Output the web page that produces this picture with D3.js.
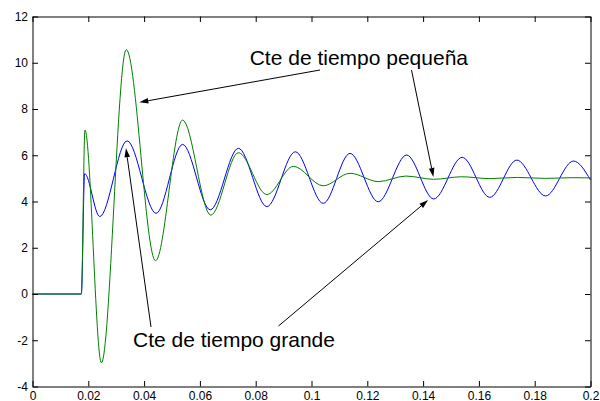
<!DOCTYPE html>
<html>
<head>
<meta charset="utf-8">
<script src="https://cdn.jsdelivr.net/npm/d3@7"></script>
<style>
  html, body { margin: 0; padding: 0; background: #fff; }
  svg { display: block; }
  text { font-family: "Liberation Sans", Arial, Helvetica, sans-serif; }
</style>
</head>
<body>
<svg id="chart" width="600" height="401"></svg>
<script>
// Response with the large time constant (blue): times (s) and values at turning points
const blueT = [0, 0.0175, 0.0187, 0.0241, 0.0339, 0.0443, 0.0538, 0.0637, 0.0738, 0.0840,
               0.0942, 0.1042, 0.1138, 0.1239, 0.1341, 0.1438, 0.1540, 0.1639, 0.1736,
               0.1839, 0.1939, 0.2];
const blueV = [0, 0, 5.2, 3.35, 6.62, 3.49, 6.47, 3.64, 6.30, 3.78,
               6.15, 3.92, 6.08, 3.99, 6.01, 4.11, 5.91, 4.18, 5.79,
               4.24, 5.75, 4.93];

// Response with the small time constant (green)
const greenT = [0, 0.0175, 0.0188, 0.0247, 0.0336, 0.0441, 0.0538, 0.0639, 0.0738, 0.0840,
                0.0935, 0.1042, 0.1138, 0.1240, 0.1338, 0.1438, 0.1538, 0.1639, 0.1738,
                0.1839, 0.1938, 0.2];
const greenV = [0, 0, 7.09, -2.98, 10.57, 1.44, 7.52, 3.41, 6.11, 4.30,
                5.52, 4.68, 5.22, 4.86, 5.10, 4.96, 5.07, 4.99, 5.04,
                5.00, 5.03, 5.02];

// Axis ticks
const xTicks = [0, 0.02, 0.04, 0.06, 0.08, 0.1, 0.12, 0.14, 0.16, 0.18, 0.2];
const xTickLabels = ["0", "0.02", "0.04", "0.06", "0.08", "0.1", "0.12", "0.14", "0.16", "0.18", "0.2"];
const yTicks = [-4, -2, 0, 2, 4, 6, 8, 10, 12];
const yTickLabels = ["-4", "-2", "0", "2", "4", "6", "8", "10", "12"];

// Annotation labels
const labelSmall = "Cte de tiempo pequeña";
const labelLarge = "Cte de tiempo grande";

const svg = d3.select("#chart");
const plotL = 32.5, plotR = 590.5, plotT = 16.5, plotB = 386.5;

const x = d3.scaleLinear().domain([0, 0.2]).range([plotL, plotR]);
const y = d3.scaleLinear().domain([-4, 12]).range([plotB, plotT]);

svg.append("rect").attr("width", 600).attr("height", 401).attr("fill", "#fff");

const line = d3.line()
  .x(d => x(d[0]))
  .y(d => y(d[1]))
  .curve(d3.curveMonotoneX);

const bluePts = blueT.map((t, i) => [t, blueV[i]]);
const greenPts = greenT.map((t, i) => [t, greenV[i]]);

svg.append("path").datum(bluePts)
  .attr("d", line).attr("fill", "none")
  .attr("stroke", "#0000ff").attr("stroke-width", 1);

svg.append("path").datum(greenPts)
  .attr("d", line).attr("fill", "none")
  .attr("stroke", "#008000").attr("stroke-width", 1);

// Boxed axes with inward ticks
const tickLen = 5.5;
const fmtX = (d, i) => xTickLabels[i];
const fmtY = (d, i) => yTickLabels[i];

function styleAxis(g) {
  g.selectAll("path.domain").attr("stroke", "#000");
  g.selectAll(".tick line").attr("stroke", "#000");
  g.selectAll("text").attr("fill", "#000")
    .style("font-family", "'Liberation Sans', Arial, Helvetica, sans-serif")
    .style("font-size", "12px");
}

svg.append("g").attr("transform", `translate(0,${plotB})`)
  .call(d3.axisBottom(x).tickValues(xTicks).tickFormat(fmtX)
        .tickSizeInner(-tickLen).tickSizeOuter(0).tickPadding(4.5))
  .call(styleAxis);

svg.append("g").attr("transform", `translate(0,${plotT})`)
  .call(d3.axisTop(x).tickValues(xTicks).tickFormat("")
        .tickSizeInner(-tickLen).tickSizeOuter(0))
  .call(styleAxis);

svg.append("g").attr("transform", `translate(${plotL},0)`)
  .call(d3.axisLeft(y).tickValues(yTicks).tickFormat(fmtY)
        .tickSizeInner(-tickLen).tickSizeOuter(0).tickPadding(4.5))
  .call(styleAxis);

svg.append("g").attr("transform", `translate(${plotR},0)`)
  .call(d3.axisRight(y).tickValues(yTicks).tickFormat("")
        .tickSizeInner(-tickLen).tickSizeOuter(0))
  .call(styleAxis);

// Annotations: arrows from label to curve (tail in pixels, tip in data units)
const arrows = [
  { tail: [320, 70],    tip: [0.0383, 8.29] },
  { tail: [411.5, 70],  tip: [0.1437, 5.06] },
  { tail: [151, 327],   tip: [0.0335, 6.30] },
  { tail: [278.5, 326], tip: [0.1418, 4.06] }
];

const ann = svg.append("g");
arrows.forEach(a => {
  const tx = x(a.tip[0]), ty = y(a.tip[1]);
  const [sx, sy] = a.tail;
  const ang = Math.atan2(ty - sy, tx - sx);
  const len = 9, hw = 2.8;
  const bx = tx - len * Math.cos(ang), by = ty - len * Math.sin(ang);
  ann.append("line")
    .attr("x1", sx).attr("y1", sy).attr("x2", bx).attr("y2", by)
    .attr("stroke", "#000").attr("stroke-width", 1);
  const px = -Math.sin(ang), py = Math.cos(ang);
  ann.append("path")
    .attr("d", `M${tx},${ty}L${bx + hw * px},${by + hw * py}L${bx - hw * px},${by - hw * py}Z`)
    .attr("fill", "#000");
});

ann.append("text").attr("x", 249.7).attr("y", 64.5)
  .attr("font-size", 21).attr("fill", "#000").text(labelSmall);
ann.append("text").attr("x", 133).attr("y", 347)
  .attr("font-size", 21).attr("fill", "#000").text(labelLarge);
</script>
</body>
</html>
